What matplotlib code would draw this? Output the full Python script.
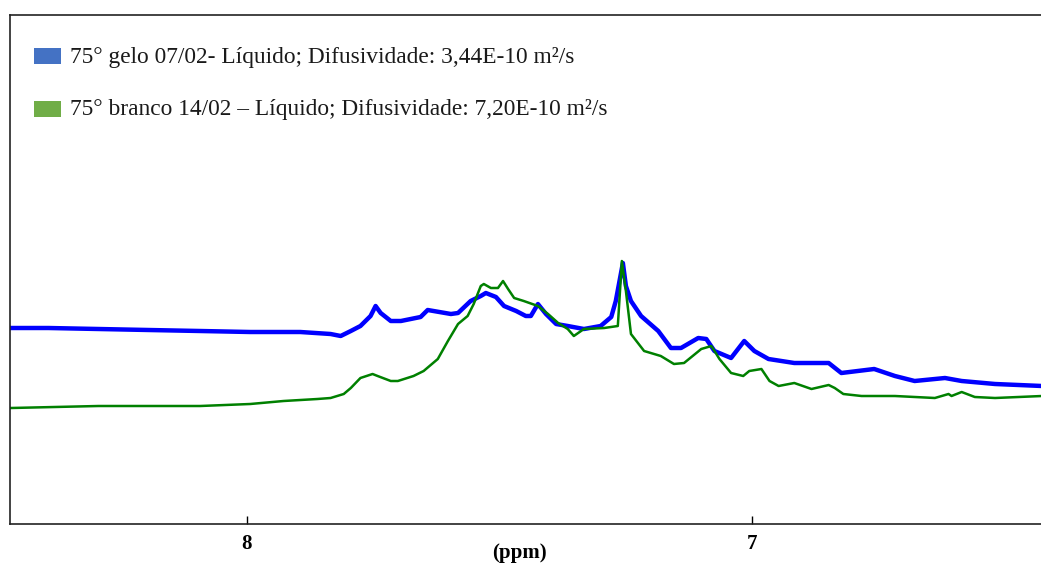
import matplotlib
matplotlib.use("Agg")
import matplotlib.pyplot as plt
from matplotlib.patches import Rectangle

# chemical shift (ppm) and intensity (a.u.)
gelo_ppm = [8.468, 8.392, 8.293, 8.194, 8.092, 7.993, 7.894, 7.834, 7.814, 7.794,
            7.775, 7.755, 7.745, 7.735, 7.715, 7.695, 7.656, 7.642, 7.596, 7.582,
            7.557, 7.537, 7.527, 7.507, 7.491, 7.467, 7.448, 7.438, 7.424, 7.408,
            7.388, 7.365, 7.333, 7.300, 7.279, 7.270, 7.256, 7.250, 7.240, 7.220,
            7.186, 7.161, 7.141, 7.107, 7.091, 7.075, 7.042, 7.016, 6.996, 6.968,
            6.917, 6.849, 6.824, 6.759, 6.718, 6.679, 6.619, 6.586, 6.520, 6.427]
gelo_int = [196, 196, 195, 194, 193, 192, 192, 190, 188, 193,
            198, 208, 218, 211, 203, 203, 207, 214, 210, 211,
            223, 228, 231, 227, 218, 213, 208, 208, 220, 210,
            200, 198, 195, 198, 207, 223, 261, 238, 223, 208,
            193, 176, 176, 186, 185, 173, 166, 183, 173, 165,
            161, 161, 151, 155, 148, 143, 146, 143, 140, 138]

branco_ppm = [8.466, 8.293, 8.092, 7.993, 7.927, 7.860, 7.834, 7.808, 7.794, 7.775,
              7.751, 7.741, 7.715, 7.701, 7.670, 7.650, 7.622, 7.602, 7.582, 7.563,
              7.551, 7.537, 7.531, 7.517, 7.503, 7.493, 7.483, 7.471, 7.452, 7.424,
              7.404, 7.384, 7.365, 7.353, 7.333, 7.293, 7.266, 7.258, 7.250, 7.240,
              7.214, 7.181, 7.155, 7.135, 7.101, 7.081, 7.065, 7.042, 7.018, 7.006,
              6.982, 6.966, 6.948, 6.917, 6.883, 6.849, 6.837, 6.820, 6.784, 6.718,
              6.639, 6.612, 6.606, 6.586, 6.560, 6.520, 6.427]
branco_int = [116, 118, 118, 120, 123, 125, 126, 130, 136, 146,
              150, 148, 143, 143, 148, 153, 165, 183, 200, 208,
              220, 238, 240, 236, 236, 243, 235, 226, 223, 218,
              210, 201, 195, 188, 195, 196, 198, 263, 233, 190,
              173, 168, 160, 161, 175, 178, 165, 151, 148, 153,
              155, 143, 138, 141, 135, 139, 136, 130, 128, 128,
              126, 130, 128, 132, 127, 126, 128]

labels = ["75° gelo 07/02- Líquido; Difusividade: 3,44E-10 m²/s",
          "75° branco 14/02 – Líquido; Difusividade: 7,20E-10 m²/s"]
line_colors = ["#0000ff", "#008000"]
key_colors = ["#4472c4", "#70ad47"]

W, H = 1041, 563
fig = plt.figure(figsize=(W / 100, H / 100), dpi=100)
ax = fig.add_axes([10 / W, 1 - 524 / H, 1.0 - 10 / W + 0.002, (524 - 15) / H])

ax.plot(gelo_ppm, gelo_int, color=line_colors[0], lw=3.2, solid_joinstyle="round")
ax.plot(branco_ppm, branco_int, color=line_colors[1], lw=1.8, solid_joinstyle="round")

ax.set_xlim(8.468, 6.425)
ax.set_ylim(0, 509)
ax.set_xticks([8, 7])
ax.set_xticklabels(["8", "7"], fontfamily="Liberation Serif", fontweight="bold", fontsize=15)
ax.set_yticks([])
ax.tick_params(axis="x", direction="in", length=6, width=1, pad=7)
for side in ["left", "top", "bottom"]:
    ax.spines[side].set_linewidth(1.2)
    ax.spines[side].set_color("#222222")
ax.spines["right"].set_visible(False)

fig.text(519 / W, 1 - 553 / H, "(ppm)", ha="center", va="center",
         fontfamily="Liberation Serif", fontweight="bold", fontsize=15)

# legend keys drawn by hand
for i, (lab, col) in enumerate(zip(labels, key_colors)):
    y_top = 48 + i * 53
    fig.patches.append(Rectangle((34 / W, 1 - (y_top + 16) / H), 27 / W, 16 / H,
                                 transform=fig.transFigure, facecolor=col, edgecolor="none"))
    fig.text(70 / W, 1 - (y_top + 9) / H, lab, ha="left", va="center",
             fontfamily="Liberation Serif", fontsize=16.8, color="#1a1a1a")

fig.savefig("out.png", dpi=100)
